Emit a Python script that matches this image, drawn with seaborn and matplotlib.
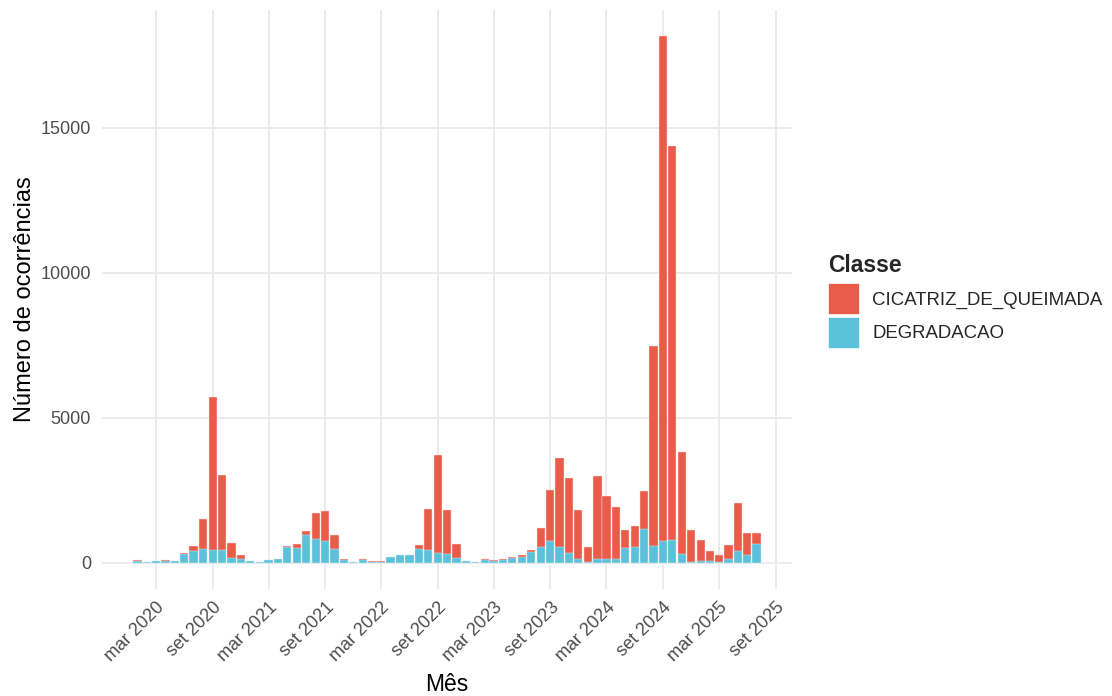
import numpy as np
import pandas as pd
import matplotlib
matplotlib.use("Agg")
import matplotlib.pyplot as plt
import matplotlib.dates as mdates
from matplotlib.patches import Patch
import seaborn as sns

# meses (jan 2020 .. jul 2025)
MESES = pd.date_range("2020-01-01", "2025-07-01", freq="MS")

# ocorrências por classe
QUEIMADA = [
    20, 5, 10, 10, 15, 25, 195, 1025, 5280, 2573, 535, 140,          # 2020
    10, 5, 10, 15, 45, 140, 140, 920, 1010, 500, 30, 10,             # 2021
    35, 6, 6, 6, 5, 7, 125, 1420, 3375, 1525, 482, 30,               # 2022
    13, 30, 25, 35, 35, 65, 55, 655, 1775, 3070, 2595, 1678,         # 2023
    515, 2875, 2190, 1815, 625, 730, 1335, 6890, 17405, 13595, 3490, 1100,  # 2024
    695, 350, 253, 510, 1680, 778, 371,                              # 2025
]
DEGRADACAO = [
    70, 30, 45, 70, 55, 310, 390, 465, 435, 437, 160, 120,
    45, 30, 80, 110, 545, 505, 940, 805, 760, 455, 100, 15,
    80, 40, 40, 184, 270, 255, 475, 440, 350, 305, 168, 45,
    12, 80, 65, 80, 160, 210, 380, 530, 745, 530, 340, 122,
    35, 125, 110, 110, 495, 540, 1150, 590, 745, 785, 310, 40,
    70, 45, 15, 110, 390, 260, 637,
]

CLASSES = ["CICATRIZ_DE_QUEIMADA", "DEGRADACAO"]
CORES = ["#E95C4A", "#5BC0D9"]

TICK_DATAS = pd.to_datetime([
    "2020-03-01", "2020-09-01", "2021-03-01", "2021-09-01", "2022-03-01",
    "2022-09-01", "2023-03-01", "2023-09-01", "2024-03-01", "2024-09-01",
    "2025-03-01", "2025-09-01",
])
TICK_LABELS = [
    "mar 2020", "set 2020", "mar 2021", "set 2021", "mar 2022", "set 2022",
    "mar 2023", "set 2023", "mar 2024", "set 2024", "mar 2025", "set 2025",
]
Y_TICKS = [0, 5000, 10000, 15000]


df = pd.DataFrame({
    "mes": mdates.date2num(MESES),
    "queimada": QUEIMADA,
    "degradacao": DEGRADACAO,
})
df["total"] = df["queimada"] + df["degradacao"]

sns.set_theme(style="whitegrid")
plt.rcParams["font.family"] = ["Liberation Sans", "DejaVu Sans"]

fig = plt.figure(figsize=(11.12, 6.96), dpi=100)
ax = fig.add_axes([102 / 1112, 107 / 696, 690 / 1112, 579 / 696])

# empilhado: total (queimada) por baixo, degradação por cima da base
sns.barplot(data=df, x="mes", y="total", native_scale=True, color=CORES[0],
            saturation=1, width=0.957, edgecolor="#FBE3DF", linewidth=0.3,
            errorbar=None, ax=ax)
sns.barplot(data=df, x="mes", y="degradacao", native_scale=True, color=CORES[1],
            saturation=1, width=0.957, edgecolor="#E0F3F8", linewidth=0.3,
            errorbar=None, ax=ax)

# limites com expansão de 5% (estilo ggplot)
meia = 0.957 * 28 / 2
x0, x1 = df["mes"].min() - meia, df["mes"].max() + meia
ax.set_xlim(x0 - 0.05 * (x1 - x0), x1 + 0.05 * (x1 - x0))
ymax = df["total"].max()
ax.set_ylim(-0.05 * ymax, 1.05 * ymax)

ax.set_xticks(mdates.date2num(TICK_DATAS))
ax.set_xticklabels(TICK_LABELS, rotation=45, ha="right", va="top",
                   rotation_mode="anchor", fontsize=13, color="#4D4D4D")
ax.set_yticks(Y_TICKS)
ax.set_yticklabels([str(v) for v in Y_TICKS], fontsize=13, color="#4D4D4D")
ax.tick_params(axis="x", length=0, pad=7)
ax.tick_params(axis="y", length=0, pad=8)

ax.grid(True, color="#EBEBEB", linewidth=1.4)
ax.set_axisbelow(True)
for s in ax.spines.values():
    s.set_visible(False)

ax.set_xlabel("Mês", fontsize=16.5, color="black", labelpad=6)
ax.set_ylabel("Número de ocorrências", fontsize=17, color="black", labelpad=3)

handles = [Patch(facecolor=c, edgecolor="white", linewidth=0.5) for c in CORES]
leg = fig.legend(handles, CLASSES, title="Classe", loc="upper left",
                 bbox_to_anchor=(819 / 1112, 1 - 248 / 696), frameon=False,
                 fontsize=13.4, title_fontproperties={"size": 16.5, "weight": "bold"},
                 handlelength=1.67, handleheight=2.19, labelspacing=0.15,
                 handletextpad=0.7, borderpad=0, alignment="left")
leg.get_title().set_position((0, 3))

fig.savefig("out.png", dpi=100)
